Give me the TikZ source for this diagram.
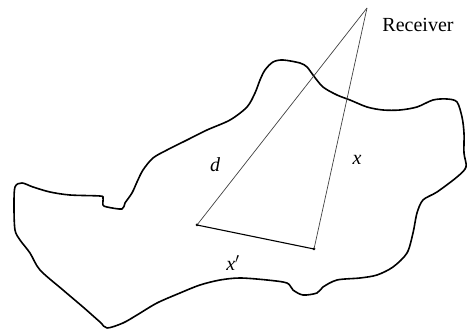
\documentclass[tikz,border=0pt]{standalone}
\usepackage{fontspec}
\setmainfont{Liberation Serif}
\begin{document}
\begin{tikzpicture}[x=1pt,y=-1pt,
  outline/.style={line width=1.6pt,line join=round},
  ray/.style={line width=0.7pt,draw=black!75},
  base/.style={line width=1.1pt},
  pt/.style={circle,fill=black,inner sep=0pt,minimum size=3pt},
  lbl/.style={font=\fontsize{20}{24}\selectfont,inner sep=0pt}]
\useasboundingbox (0,0) rectangle (467,331);
\draw[outline] plot[smooth cycle,tension=0.5] coordinates {
(15,187) (22,183) (33,187) (50,192) (70,195) (100,196) (103,198) (103,205) (107,207) (122,209)
(125,203) (132,193) (137,182) (143,170) (153,158) (167,150) (187,140) (207,130)
(230,120) (247,107) (255,93) (260,80) (265,70) (273,62) (283,60) (300,63) (307,67)
(313,75) (323,87) (337,95) (350,100) (367,107) (383,110) (400,110) (417,107)
(433,100) (447,99) (457,102) (462,117) (464,133) (464,153) (466,167) (457,177)
(437,192) (423,200) (417,213) (413,233) (407,253) (393,267) (377,275) (360,278)
(337,280) (323,287) (317,293) (303,295) (293,290) (287,283) (267,280) (240,278)
(220,280) (200,285) (180,293) (157,303) (137,315) (123,323) (107,328) (100,322)
(83,307) (63,290) (40,270) (30,253) (20,240) (15,230) (14,207)};
\coordinate (R) at (367,8);
\node[pt] (A) at (197,225) {};
\node[pt] (B) at (314,249) {};
\draw[ray] (R) -- (A.center);
\draw[ray] (R) -- (B.center);
\draw[base] (A.center) -- (B.center);
\node[lbl] (rec) at (418,25) {Receiver};
\node[lbl] (d) at (215,165) {\itshape d};
\node[lbl] (x) at (357,160) {\itshape x};
\node[lbl] (xp) at (233,263) {\itshape x$'$};
\end{tikzpicture}
\end{document}
